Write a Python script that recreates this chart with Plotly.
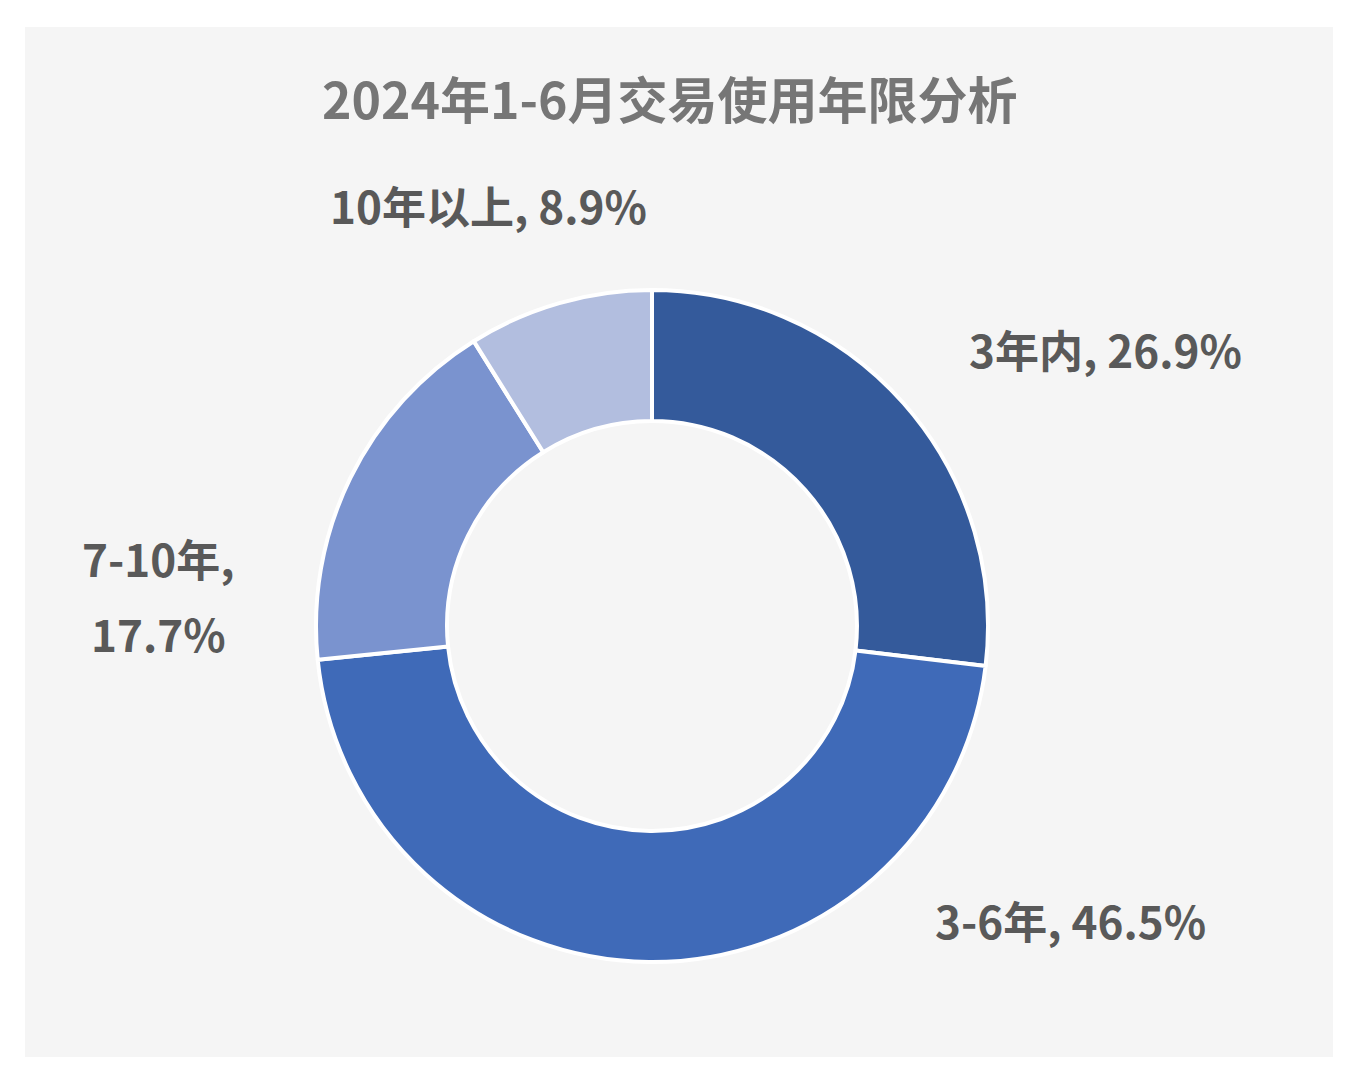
import plotly.graph_objects as go

# data
categories = ["3年内", "3-6年", "7-10年", "10年以上"]
shares = [26.9, 46.5, 17.7, 8.9]
colors = ["#345A9B", "#3F6AB8", "#7A93CF", "#B2BEDF"]
label_texts = ["3年内, 26.9%", "3-6年, 46.5%", "7-10年,<br>17.7%", "10年以上, 8.9%"]
title_text = "2024年1-6月交易使用年限分析"

W, H = 1372, 1083
OFF = 8  # page body margin shifts everything by 8px
font_cjk = "Noto Sans CJK SC"

# label positions (pixels from top-left), Excel style placement
label_pos = [(1105, 349), (1070, 920), (158, 595), (488, 205)]
line_gap = 75


def px(x):
    return (x - OFF) / W


def py(y):
    return 1 - (y - OFF) / H


fig = go.Figure()

cx, cy, R = 652, 626, 336
fig.add_trace(go.Pie(
    labels=categories,
    values=shares,
    sort=False,
    direction="clockwise",
    rotation=0,
    hole=0.61,
    marker=dict(colors=colors, line=dict(color="white", width=4)),
    textinfo="none",
    hoverinfo="label+percent",
    showlegend=False,
    domain=dict(x=[px(cx - R), px(cx + R)],
                y=[py(cy + R), py(cy - R)]),
))

# background panel
fig.add_shape(type="rect", xref="paper", yref="paper",
              x0=px(25), x1=px(1333), y0=py(1057), y1=py(27),
              fillcolor="#F5F5F5", line=dict(width=0), layer="below")

for txt, (lx, ly) in zip(label_texts, label_pos):
    lines = txt.split("<br>")
    top = ly - line_gap * (len(lines) - 1) / 2
    for i, ln in enumerate(lines):
        fig.add_annotation(x=px(lx), y=py(top + i * line_gap), xref="paper", yref="paper",
                           text="<b>%s</b>" % ln, showarrow=False,
                           xanchor="center", yanchor="middle",
                           font=dict(family=font_cjk, size=44, color="#595959"))

fig.add_annotation(x=px(670), y=py(97), xref="paper", yref="paper",
                   text="<b>%s</b>" % title_text, showarrow=False,
                   xanchor="center", yanchor="middle",
                   font=dict(family=font_cjk, size=50, color="#767676"))

fig.update_layout(
    width=W, height=H,
    margin=dict(l=0, r=0, t=0, b=0),
    paper_bgcolor="white",
    plot_bgcolor="white",
)

fig.write_html("out.html")
